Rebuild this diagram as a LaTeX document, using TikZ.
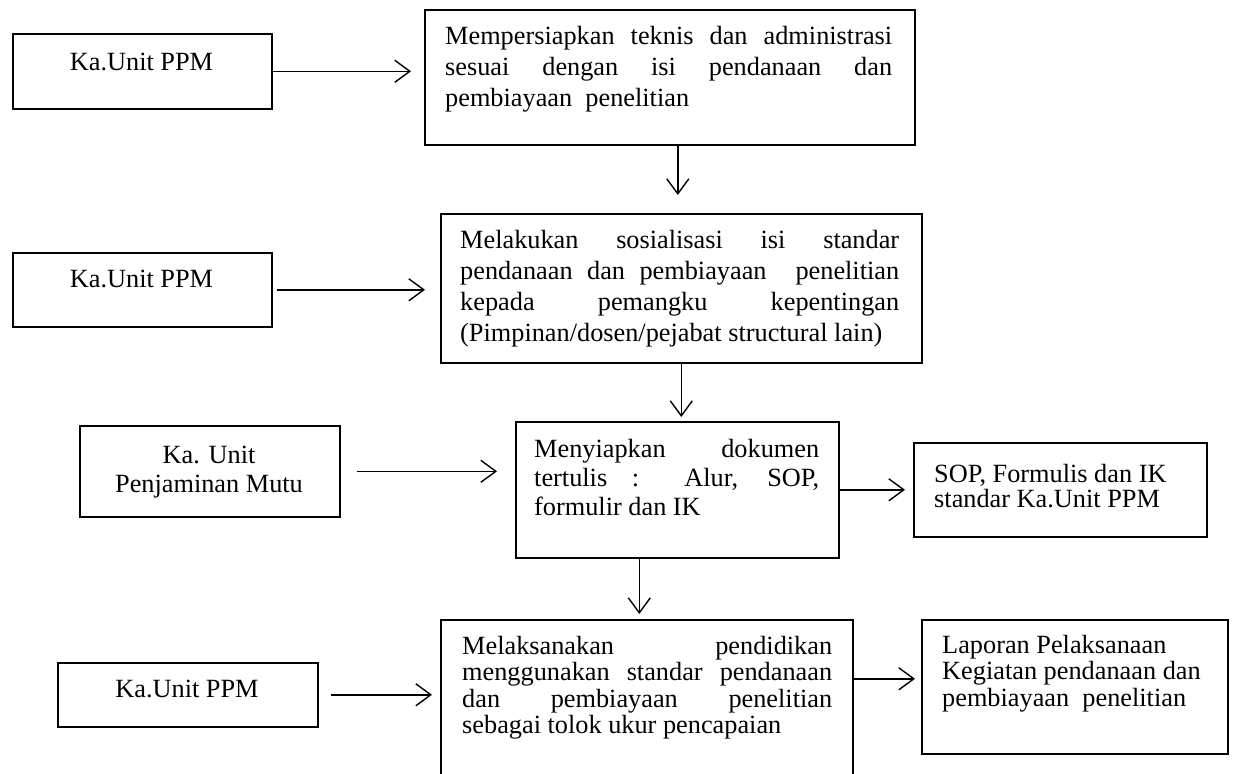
\documentclass[tikz,border=0pt]{standalone}
\usepackage{fontspec}
\setmainfont{Liberation Serif}
\usetikzlibrary{arrows.meta,calc}
\tikzset{
  box/.style={draw=black, line width=1.6pt, inner sep=0pt, anchor=north west},
  txt/.style={inner sep=0pt, anchor=north west, align=left, font=\fontsize{26.3pt}{#1}\selectfont},
  txt/.default=26.5pt,
  lbl/.style={inner sep=0pt, anchor=base, font=\fontsize{26.3pt}{29pt}\selectfont},
  arr/.style={draw=black, line width=1.4pt, -{Straight Barb[length=15pt,width=22pt,line width=1.4pt]}},
}
\newcommand{\jl}[2]{\makebox[#1pt][s]{#2}}
\newcommand{\fst}{\rule{0pt}{20pt}}
\begin{document}
\begin{tikzpicture}[x=1pt,y=-1pt]
\useasboundingbox (0,0) rectangle (1235,774);
\clip (0,0) rectangle (1235,774);
% boxes
\node[box, minimum width=259pt, minimum height=75pt] (a1) at (12,33) {};
\node[box, minimum width=490pt, minimum height=135pt] (m1) at (424,9) {};
\node[box, minimum width=259pt, minimum height=74pt] (a2) at (12,252) {};
\node[box, minimum width=481pt, minimum height=149pt] (m2) at (440,213) {};
\node[box, minimum width=260pt, minimum height=91pt] (a3) at (79,425) {};
\node[box, minimum width=323pt, minimum height=136pt] (m3) at (515,421) {};
\node[box, minimum width=293pt, minimum height=94pt] (r3) at (913,442) {};
\node[box, minimum width=260pt, minimum height=64pt] (a4) at (57,662) {};
\node[box, minimum width=412pt, minimum height=200pt] (m4) at (440,619) {};
\node[box, minimum width=306pt, minimum height=134pt] (r4) at (921,619) {};
% texts
\node[lbl] (a1t) at (141.5,70) {Ka.Unit PPM};
\node[lbl] (a2t) at (141.5,287) {Ka.Unit PPM};
\node[txt=29pt, align=center, anchor=north] (a3t) at (209,443) {\fst Ka. Unit\\Penjaminan Mutu};
\node[lbl] (a4t) at (187,697) {Ka.Unit PPM};
\node[txt=31pt] (m1t) at (445,24) {\fst\jl{447}{Mempersiapkan teknis dan administrasi}\\
  \jl{447}{sesuai dengan isi pendanaan dan}\\
  pembiayaan\ \ penelitian};
\node[txt=31pt] (m2t) at (460,228) {\fst\jl{439}{Melakukan sosialisasi isi standar}\\
  \jl{439}{pendanaan dan pembiayaan\ \ penelitian}\\
  \jl{439}{kepada pemangku kepentingan}\\
  (Pimpinan/dosen/pejabat structural lain)};
\node[txt=29pt] (m3t) at (534,437) {\fst\jl{285}{Menyiapkan dokumen}\\
  \jl{285}{tertulis : Alur, SOP,}\\
  formulir dan IK};
\node[txt=26.5pt] (m4t) at (462,634) {\fst\jl{370}{Melaksanakan pendidikan}\\
  \jl{370}{menggunakan standar pendanaan}\\
  \jl{370}{dan pembiayaan penelitian}\\
  sebagai tolok ukur pencapaian};
\node[txt=25pt] (r3t) at (934,462) {\fst SOP, Formulis dan IK\\standar Ka.Unit PPM};
\node[txt=26.5pt] (r4t) at (942,633) {\fst Laporan Pelaksanaan\\Kegiatan pendanaan dan\\pembiayaan\ \ penelitian};
% connectors
\draw[arr, shorten >=13pt] (a1.east) -- (a1.east -| m1.west);
\draw[arr, shorten <=4pt, shorten >=15pt] (a2.east) -- (a2.east -| m2.west);
\draw[arr, shorten <=16pt, shorten >=18pt] (a3.east) -- (a3.east -| m3.west);
\draw[arr, shorten <=12pt, shorten >=8pt] (a4.east) -- (a4.east -| m4.west);
\draw[arr, shorten >=8pt] (m3.east) -- (m3.east -| r3.west);
\coordinate (p4) at ($(r4.west)+(0,-8)$);
\draw[arr, shorten >=6pt] (m4.east |- p4) -- (p4);
\coordinate (q1) at ($(m1.south)+(8,0)$);
\draw[arr, shorten >=18pt] (q1) -- (q1 |- m2.north);
\draw[arr, shorten >=4pt] (m2.south) -- (m2.south |- m3.north);
\coordinate (q3) at ($(m3.south)+(-38,0)$);
\draw[arr, shorten >=5pt] (q3) -- (q3 |- m4.north);
\end{tikzpicture}
\end{document}
